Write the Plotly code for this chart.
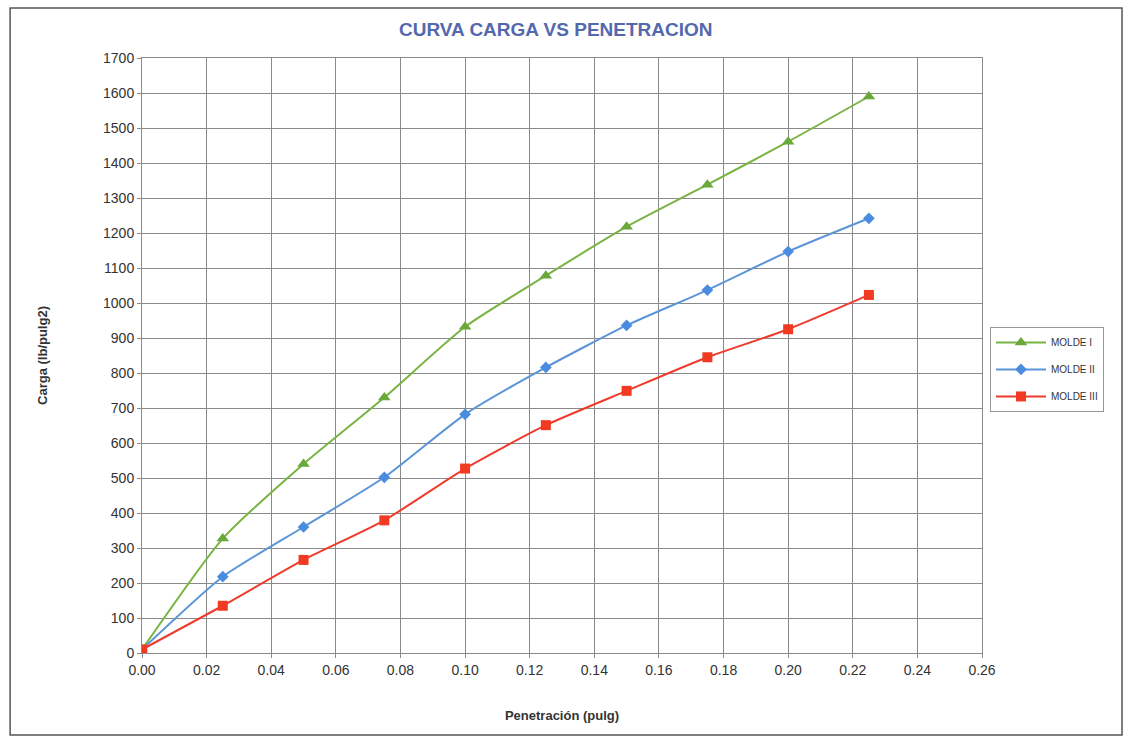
import plotly.graph_objects as go

penetracion = [0.0, 0.025, 0.05, 0.075, 0.10, 0.125, 0.15, 0.175, 0.20, 0.225]
molde_1 = [10, 327, 540, 730, 932, 1078, 1218, 1338, 1461, 1590]
molde_2 = [10, 218, 360, 502, 682, 816, 936, 1037, 1147, 1242]
molde_3 = [10, 135, 266, 379, 527, 651, 749, 845, 925, 1023]
x_ticks = [0.0, 0.02, 0.04, 0.06, 0.08, 0.10, 0.12, 0.14, 0.16, 0.18, 0.20, 0.22, 0.24, 0.26]
y_ticks = list(range(0, 1701, 100))

fig = go.Figure()
fig.add_trace(go.Scatter(x=penetracion, y=molde_1, name="MOLDE I", mode="lines+markers",
                         legendgroup="g1",
                         line=dict(color="#79b443", width=2, shape="spline", smoothing=0.6),
                         marker=dict(symbol="triangle-up", size=11, color="#6aa83a")))
fig.add_trace(go.Scatter(x=penetracion, y=molde_2, name="MOLDE II", mode="lines+markers",
                         legendgroup="g2",
                         line=dict(color="#5b95d8", width=2, shape="spline", smoothing=0.6),
                         marker=dict(symbol="diamond", size=9, color="#4a8ce0")))
fig.add_trace(go.Scatter(x=penetracion, y=molde_3, name="MOLDE III", mode="lines+markers",
                         legendgroup="g3",
                         line=dict(color="#ef3b2c", width=2, shape="spline", smoothing=0.6),
                         marker=dict(symbol="square", size=10, color="#f23a22")))

axis_common = dict(showgrid=True, gridcolor="#8a8a8a", gridwidth=1, showline=True,
                   linecolor="#8a8a8a", linewidth=1, mirror=True, zeroline=False,
                   ticks="outside", ticklen=4, tickcolor="#8a8a8a",
                   tickfont=dict(family="Arial, Liberation Sans", size=14, color="#333333"))

fig.update_xaxes(range=[0, 0.26], tickvals=x_ticks,
                 ticktext=[f"{v:.2f}" for v in x_ticks],
                 title=dict(text="<b>Penetración (pulg)</b>", standoff=34,
                            font=dict(family="Arial, Liberation Sans", size=13, color="#333333")),
                 **axis_common)
fig.update_yaxes(range=[0, 1700], tickvals=y_ticks,
                 title=dict(text="<b>Carga (lb/pulg2)</b>", standoff=52,
                            font=dict(family="Arial, Liberation Sans", size=13, color="#333333")),
                 **axis_common)

fig.update_layout(
    width=1132, height=742,
    margin=dict(l=142, r=150, t=58, b=89),
    paper_bgcolor="white", plot_bgcolor="white",
    showlegend=True,
    legend=dict(x=1.0095, y=0.548, xanchor="left", yanchor="top",
                bordercolor="#999999", borderwidth=1, bgcolor="white",
                font=dict(family="Arial, Liberation Sans", size=10, color="#333333"),
                itemwidth=50, traceorder="grouped", tracegroupgap=8),
    annotations=[dict(text="<b>CURVA CARGA VS PENETRACION</b>", xref="paper", yref="paper",
                      x=0.493, y=1.048, xanchor="center", yanchor="middle", showarrow=False,
                      font=dict(family="Arial, Liberation Sans", size=19, color="#5468ad"))],
    shapes=[dict(type="rect", xref="paper", yref="paper", x0=-0.157, x1=1.1667,
                 y0=-0.138, y1=1.084, line=dict(color="#555555", width=1.5))],
)

fig.write_html("out.html")
